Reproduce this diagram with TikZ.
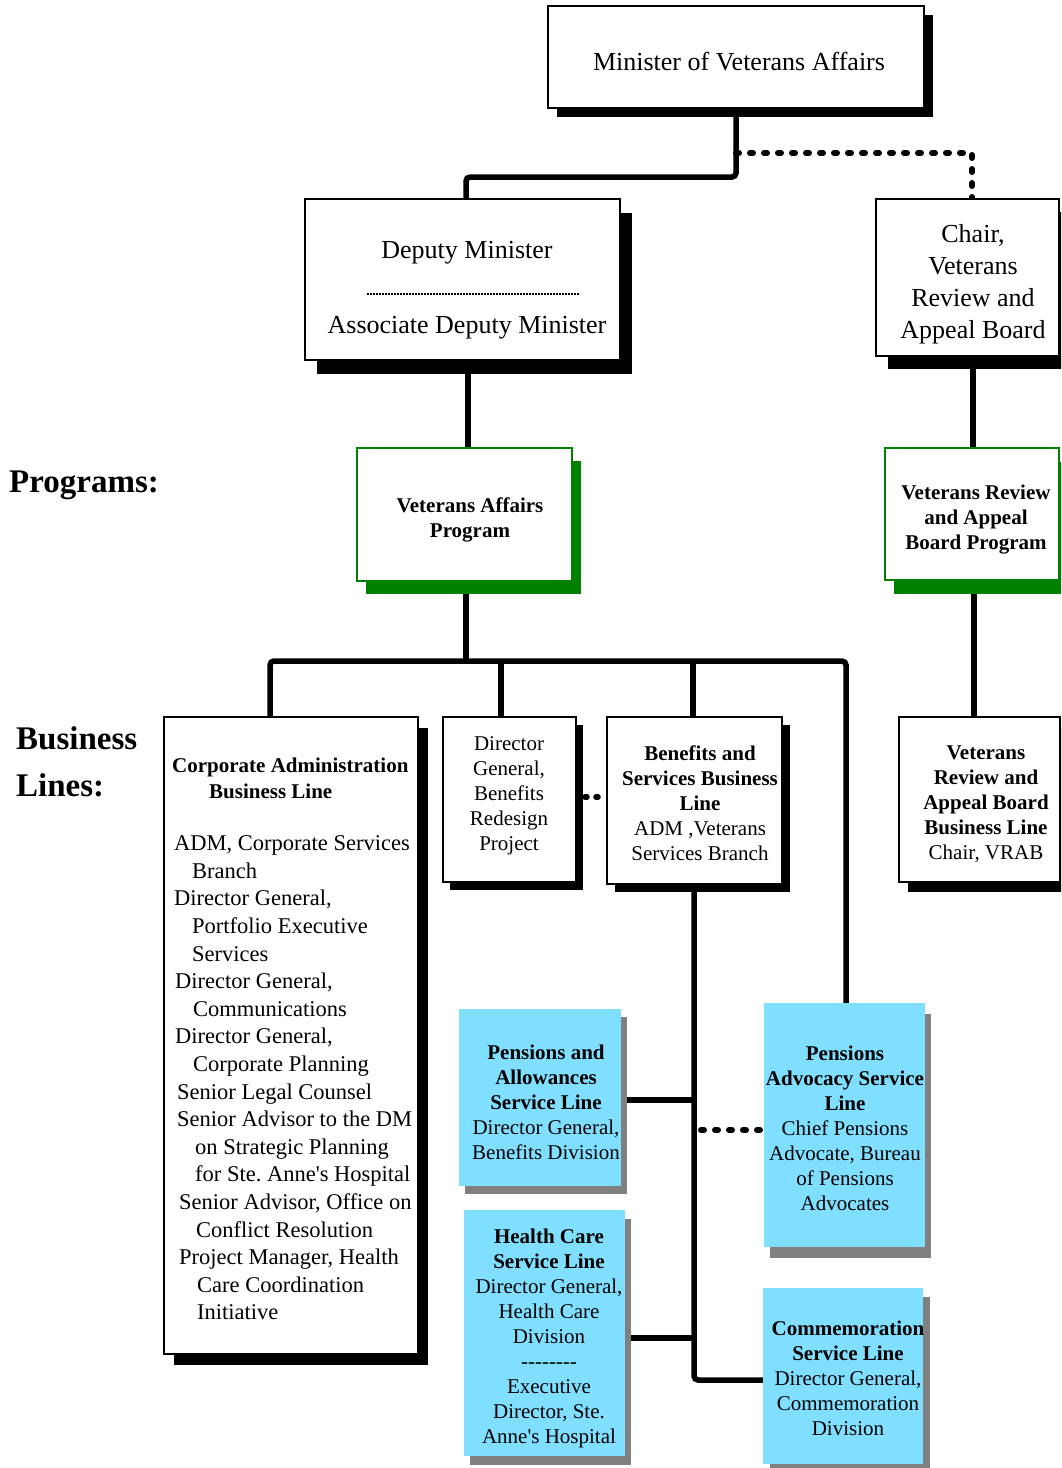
\documentclass[tikz,border=0pt]{standalone}
\usepackage{fontspec}
\newfontfamily\tnr{Liberation Serif}
\usetikzlibrary{shadows,calc}
\pgfdeclarelayer{bg}
\pgfsetlayers{bg,main}
\newcommand\fbig{\tnr\fontsize{26}{32}\selectfont}
\newcommand\fmed{\tnr\fontsize{21}{25}\selectfont}
\newcommand\fmedb{\tnr\fontsize{21}{25}\selectfont\bfseries}
\newcommand\fcorp{\tnr\fontsize{22.5}{27.6}\selectfont}
\newcommand\fcorpt{\tnr\fontsize{21}{26}\selectfont\bfseries}
\newcommand\flab{\tnr\fontsize{33}{47}\selectfont\bfseries}
\definecolor{lblue}{RGB}{128,223,255}
\definecolor{dgreen}{RGB}{0,128,0}
\definecolor{sgrey}{RGB}{128,128,128}
\begin{document}
\begin{tikzpicture}[x=1pt,y=-1pt,
  wbox/.style={draw=black, line width=2pt, fill=white, inner sep=0pt},
  gbox/.style={draw=dgreen, line width=2pt, fill=white, inner sep=0pt},
  bbox/.style={draw=none, fill=lblue, inner sep=0pt},
  sh/.style 2 args={drop shadow={shadow xshift=#1pt, shadow yshift=-#2pt, fill=black, opacity=1, draw=none}},
  gsh/.style 2 args={drop shadow={shadow xshift=#1pt, shadow yshift=-#2pt, fill=dgreen, opacity=1, draw=none}},
  bsh/.style 2 args={drop shadow={shadow xshift=#1pt, shadow yshift=-#2pt, fill=sgrey, opacity=1, draw=none}},
  txt/.style={inner sep=0pt, align=center},
  conn/.style={draw=black, line width=5.5pt},
  dots/.style={draw=black, line width=6pt, dash pattern=on 3pt off 11pt, line cap=round},
  sdots/.style={draw=black, line width=5.5pt, dash pattern=on 2pt off 9pt, line cap=round},
  fdots/.style={draw=black, line width=1.5pt, dash pattern=on 1.5pt off 1.5pt}
]
\useasboundingbox (0,0) rectangle (1061,1468);
\clip (0,0) rectangle (1061,1468);

% boxes
\node[wbox, sh={9}{9}, minimum width=376pt, minimum height=102pt] (min) at (736,57) {};
\node[wbox, sh={12}{14}, minimum width=315pt, minimum height=161pt] (dep) at (462.5,279.5) {};
\node[wbox, sh={12}{13}, minimum width=183pt, minimum height=157pt] (chair) at (967.5,277.5) {};
\node[gbox, gsh={9}{13}, minimum width=215pt, minimum height=133pt] (vap) at (464.5,514.5) {};
\node[gbox, gsh={9}{14}, minimum width=174pt, minimum height=132pt] (vrabp) at (972,514) {};
\node[wbox, sh={10}{11}, minimum width=254pt, minimum height=637pt] (corp) at (291,1035.5) {};
\node[wbox, sh={7}{8}, minimum width=133pt, minimum height=165pt] (dgb) at (509.5,799.5) {};
\node[wbox, sh={8}{8}, minimum width=175pt, minimum height=167pt] (ben) at (694.5,800.5) {};
\node[wbox, sh={9}{10}, minimum width=161pt, minimum height=165pt] (vrabbl) at (979.5,799.5) {};
\node[bbox, bsh={6}{8}, minimum width=162pt, minimum height=177pt] (pa) at (540,1097.5) {};
\node[bbox, bsh={6}{9}, minimum width=161pt, minimum height=246pt] (hc) at (544.5,1333) {};
\node[bbox, bsh={6}{11}, minimum width=161pt, minimum height=244pt] (padv) at (844.5,1125) {};
\node[bbox, bsh={7}{9}, minimum width=160pt, minimum height=176pt] (com) at (843,1376) {};

% texts
\node[txt, font=\fbig] (tmin) at (739,62) {Minister of Veterans Affairs};
\node[txt, font=\fbig] (tdep1) at (467,253) {Deputy Minister};
\node[txt, font=\fbig] (tdep2) at (467,328) {Associate Deputy Minister};
\coordinate (dl1) at (367,294);
\coordinate (dl2) at (580,294);
\draw[fdots] (dl1) -- (dl2);
\node[txt, font=\fbig] (tchair) at (973,284) {Chair,\\Veterans\\Review and\\Appeal Board};
\node[txt, font=\flab, anchor=west] (lprog) at (9,485) {Programs:};
\node[txt, font=\flab, anchor=west, align=left] (lbus) at (16,762) {Business\\Lines:};
\node[txt, font=\fmedb] (tvap) at (470,520) {Veterans Affairs\\Program};
\node[txt, font=\fmedb] (tvrabp) at (976,520) {Veterans Review\\and Appeal\\Board Program};
\node[txt, font=\fcorpt, anchor=west, align=left] (tcorp1) at (172,778) {Corporate Administration\\\hspace*{37pt}Business Line};
\node[txt, font=\fcorp, anchor=west, align=left] (tcorp2) at (174,1078) {ADM, Corporate Services\\
\hspace*{18pt}Branch\\
Director General,\\
\hspace*{18pt}Portfolio Executive\\
\hspace*{18pt}Services\\
\hspace*{1pt}Director General,\\
\hspace*{19pt}Communications\\
\hspace*{1pt}Director General,\\
\hspace*{19pt}Corporate Planning\\
\hspace*{3pt}Senior Legal Counsel\\
\hspace*{3pt}Senior Advisor to the DM\\
\hspace*{21pt}on Strategic Planning\\
\hspace*{21pt}for Ste.\ Anne's Hospital\\
\hspace*{5pt}Senior Advisor, Office on\\
\hspace*{22pt}Conflict Resolution\\
\hspace*{5pt}Project Manager, Health\\
\hspace*{23pt}Care Coordination\\
\hspace*{23pt}Initiative};
\node[txt, font=\fmed] (tdgb) at (509,796) {Director\\General,\\Benefits\\Redesign\\Project};
\node[txt, font=\fmed] (tben) at (700,803) {\textbf{Benefits and}\\\textbf{Services Business}\\\textbf{Line}\\ADM ,Veterans\\Services Branch};
\node[txt, font=\fmed] (tvbl) at (986,804) {\textbf{Veterans}\\\textbf{Review and}\\\textbf{Appeal Board}\\\textbf{Business Line}\\Chair, VRAB};
\node[txt, font=\fmed] (tpa) at (546,1102) {\textbf{Pensions and}\\\textbf{Allowances}\\\textbf{Service Line}\\Director General,\\Benefits Division};
\node[txt, font=\fmed] (thc) at (549,1338) {\textbf{Health Care}\\\textbf{Service Line}\\Director General,\\Health Care\\Division\\--------\\Executive\\Director, Ste.\\Anne's Hospital};
\node[txt, font=\fmed] (tpadv) at (845,1128) {\textbf{Pensions}\\\textbf{Advocacy Service}\\\textbf{Line}\\Chief Pensions\\Advocate, Bureau\\of Pensions\\Advocates};
\node[txt, font=\fmed] (tcom) at (848,1378) {\textbf{Commemoration}\\\textbf{Service Line}\\Director General,\\Commemoration\\Division};

% connectors
\begin{pgfonlayer}{bg}
\coordinate (t1) at (736,177);
\coordinate (t0) at (466,177);
\coordinate (t2) at (736,153);
\coordinate (t3) at (972,153);
\draw[conn, rounded corners=4pt] (min.south) -- (t1) -- (t0) -- (t0 |- dep.north);
\draw[dots] (t2) -- (t3) -- (t3 |- chair.north);
\coordinate (c1) at (468,400);
\coordinate (c2) at (973,400);
\coordinate (c3) at (974,650);
\draw[conn] (dep.south -| c1) -- (vap.north -| c1);
\draw[conn] (chair.south -| c2) -- (vrabp.north -| c2);
\draw[conn] (vrabp.south -| c3) -- (vrabbl.north -| c3);
\coordinate (b0) at (466,661);
\coordinate (b1) at (270,661);
\coordinate (b2) at (501,661);
\coordinate (b3) at (693,661);
\coordinate (b4) at (846,661);
\draw[conn] (vap.south -| b0) -- (b0);
\draw[conn, rounded corners=4pt] (corp.north -| b1) -- (b1) -- (b4) -- (padv.north -| b4);
\draw[conn] (dgb.north -| b2) -- (b2);
\draw[conn] (ben.north -| b3) -- (b3);
\coordinate (v1) at (694,1380);
\draw[conn, rounded corners=4pt] (ben.south -| v1) -- (v1) -- (v1 -| com.west);
\coordinate (h1) at (694,1100);
\coordinate (h2) at (694,1338);
\coordinate (h3) at (701,1130);
\coordinate (h4) at (585,797);
\draw[conn] (h1 -| pa.east) -- (h1);
\draw[conn] (h2 -| hc.east) -- (h2);
\draw[dots] (h3) -- (h3 -| padv.west);
\draw[sdots] (h4) -- (h4 -| ben.west);
\end{pgfonlayer}
\end{tikzpicture}
\end{document}
